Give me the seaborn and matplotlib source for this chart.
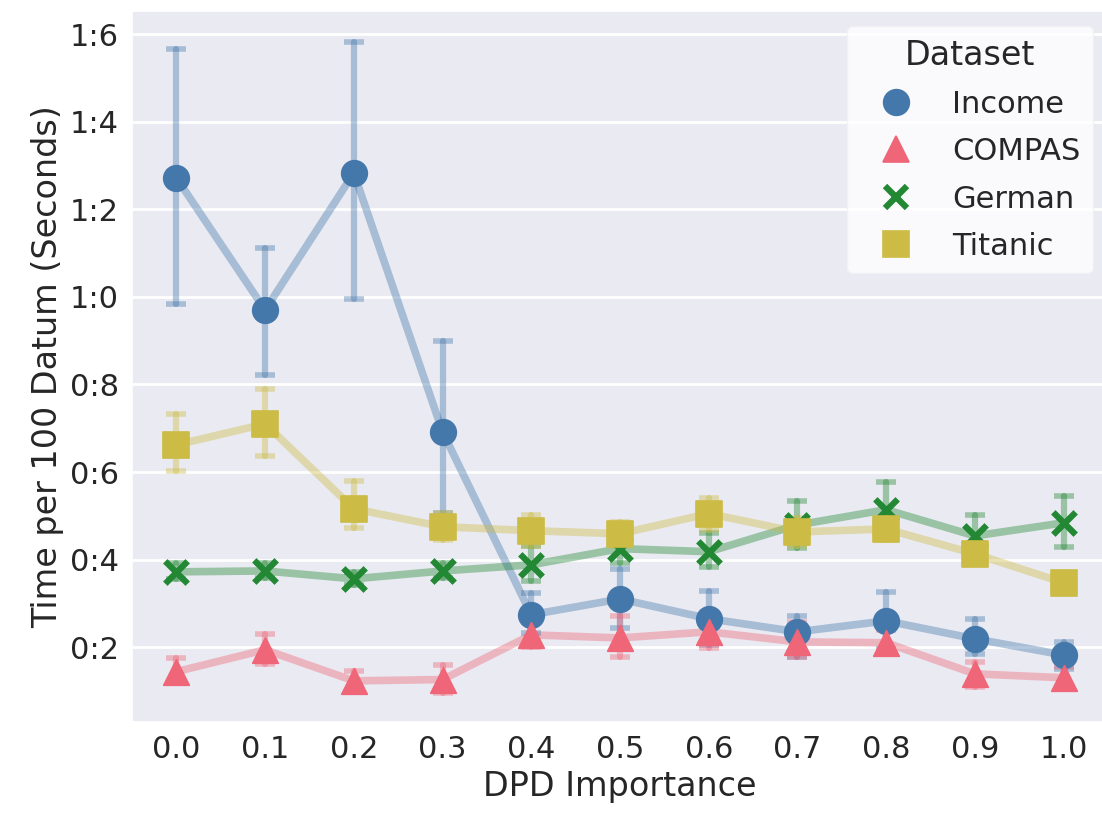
import numpy as np
import pandas as pd
import matplotlib
matplotlib.use("Agg")
import matplotlib.pyplot as plt
from matplotlib.lines import Line2D
import seaborn as sns

# DPD importance levels (x axis)
importance = [0.0, 0.1, 0.2, 0.3, 0.4, 0.5, 0.6, 0.7, 0.8, 0.9, 1.0]

# Mean time per 100 datum (seconds) with lower / upper error bounds
income_mean = [1.272, 0.970, 1.283, 0.692, 0.274, 0.310, 0.265, 0.235, 0.260, 0.219, 0.182]
income_lo = [0.984, 0.822, 0.995, 0.507, 0.233, 0.244, 0.205, 0.178, 0.195, 0.185, 0.151]
income_hi = [1.566, 1.112, 1.582, 0.900, 0.324, 0.379, 0.329, 0.272, 0.327, 0.265, 0.212]

compas_mean = [0.144, 0.194, 0.123, 0.126, 0.228, 0.221, 0.235, 0.212, 0.210, 0.139, 0.130]
compas_lo = [0.120, 0.162, 0.100, 0.095, 0.200, 0.178, 0.198, 0.178, 0.187, 0.110, 0.110]
compas_hi = [0.176, 0.231, 0.146, 0.160, 0.262, 0.270, 0.267, 0.258, 0.240, 0.167, 0.155]

german_mean = [0.372, 0.374, 0.356, 0.374, 0.388, 0.425, 0.418, 0.479, 0.514, 0.454, 0.484]
german_lo = [0.355, 0.357, 0.342, 0.357, 0.352, 0.393, 0.384, 0.427, 0.450, 0.406, 0.429]
german_hi = [0.392, 0.392, 0.372, 0.392, 0.430, 0.460, 0.461, 0.534, 0.578, 0.502, 0.546]

titanic_mean = [0.662, 0.710, 0.516, 0.475, 0.466, 0.459, 0.505, 0.463, 0.470, 0.413, 0.347]
titanic_lo = [0.603, 0.637, 0.473, 0.445, 0.430, 0.430, 0.468, 0.430, 0.445, 0.395, 0.325]
titanic_hi = [0.733, 0.790, 0.580, 0.507, 0.502, 0.486, 0.541, 0.495, 0.495, 0.432, 0.370]

datasets = ["Income", "COMPAS", "German", "Titanic"]
colors = {"Income": "#4477AA", "COMPAS": "#EE6677", "German": "#228833", "Titanic": "#CCBB44"}
markers = {"Income": "o", "COMPAS": "^", "German": "x", "Titanic": "s"}

series = {
    "Income": (income_mean, income_lo, income_hi),
    "COMPAS": (compas_mean, compas_lo, compas_hi),
    "German": (german_mean, german_lo, german_hi),
    "Titanic": (titanic_mean, titanic_lo, titanic_hi),
}

rows = []
for name in datasets:
    m, lo, hi = series[name]
    for x, a, b, c in zip(importance, m, lo, hi):
        rows.append({"DPD Importance": x, "Dataset": name, "Time": a, "lo": b, "hi": c})
df = pd.DataFrame(rows)

sns.set_theme(context="notebook", style="darkgrid", font_scale=2)
plt.rcParams["font.family"] = ["DejaVu Sans"]

fig = plt.figure(figsize=(11.02, 8.27), dpi=100)
ax = fig.add_axes([132 / 1102, 105 / 827, (1108 - 132) / 1102, (722 - 11) / 827])

# connecting lines (translucent)
sns.lineplot(data=df, x="DPD Importance", y="Time", hue="Dataset", hue_order=datasets,
             palette=colors, alpha=0.4, linewidth=5.5, legend=False, ax=ax, zorder=2)

# error bars
for name in datasets:
    d = df[df["Dataset"] == name]
    yerr = np.vstack([d["Time"] - d["lo"], d["hi"] - d["Time"]])
    _, caps, bars = ax.errorbar(d["DPD Importance"], d["Time"], yerr=yerr, fmt="none",
                                ecolor=colors[name], elinewidth=4.5, capsize=7, capthick=4,
                                alpha=0.4, zorder=2)
    for b in bars:
        b.set_capstyle("round")

# markers, one call per dataset so the line-art "x" can sit beside filled shapes
for name in datasets:
    d = df[df["Dataset"] == name]
    if markers[name] == "x":
        sns.scatterplot(data=d, x="DPD Importance", y="Time", color=colors[name],
                        marker="x", s=260, linewidth=4.5, legend=False, ax=ax, zorder=3)
    else:
        sns.scatterplot(data=d, x="DPD Importance", y="Time", color=colors[name],
                        marker=markers[name], s=340, edgecolor=colors[name], linewidth=1.2,
                        legend=False, ax=ax, zorder=3)

ax.set_xlim(-0.05, 1.05)
ax.set_ylim(0.029, 1.653)
ax.set_xticks(importance)
ax.set_xticklabels([f"{v:.1f}" for v in importance])
yticks = [0.2, 0.4, 0.6, 0.8, 1.0, 1.2, 1.4, 1.6]
ax.set_yticks(yticks)
ax.set_yticklabels([f"{v:.1f}".replace(".", ":") for v in yticks])
ax.xaxis.grid(False)
ax.yaxis.grid(True, color="white", linewidth=2)
ax.set_xlabel("DPD Importance")
ax.set_ylabel("Time per 100 Datum (Seconds)")

handles = []
for n in datasets:
    if markers[n] == "x":
        handles.append(Line2D([], [], marker="x", color=colors[n], linestyle="",
                              markersize=16, markeredgewidth=4.5))
    else:
        handles.append(Line2D([], [], marker=markers[n], color=colors[n], linestyle="",
                              markersize=18.5, markeredgecolor=colors[n], markeredgewidth=1.2))
leg = ax.legend(handles, datasets, title="Dataset", loc="upper right",
                facecolor="white", framealpha=0.8, edgecolor="#F0F0F5",
                title_fontsize=24, fontsize=22, labelspacing=0.6,
                borderpad=0.4, handlelength=2.45, handletextpad=0.6)

fig.savefig("out.png", dpi=100)
